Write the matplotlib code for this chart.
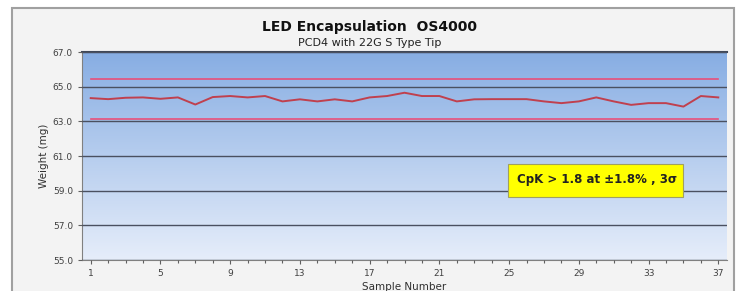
import numpy as np
import matplotlib
matplotlib.use('Agg')
import matplotlib.pyplot as plt
from matplotlib.patches import Rectangle

# --- data ---
samples = np.arange(1, 38)
weight = [64.34, 64.28, 64.36, 64.38, 64.30, 64.38, 63.97, 64.40, 64.46, 64.38,
          64.46, 64.15, 64.27, 64.15, 64.27, 64.15, 64.38, 64.46, 64.65, 64.46,
          64.46, 64.15, 64.27, 64.28, 64.28, 64.28, 64.15, 64.05, 64.15, 64.38,
          64.15, 63.95, 64.05, 64.05, 63.85, 64.46, 64.38]
usl = 65.46
lsl = 63.14
note = 'CpK > 1.8 at \u00b11.8% , 3\u03c3'

fig = plt.figure(figsize=(7.4, 2.91), dpi=100, facecolor='white')
fig.patches.append(Rectangle((12/740, -0.01), 722/740, 1 - 8/291 + 0.01,
                             transform=fig.transFigure, facecolor='#f3f3f3',
                             edgecolor='#a0a0a0', lw=1.5, zorder=-10))
ax = fig.add_axes([82/740, 1 - 260/291, 645/740, 208/291])

# gradient background
grad = np.linspace(0, 1, 256).reshape(-1, 1)
top = np.array([0.53, 0.68, 0.89])
bot = np.array([0.90, 0.93, 0.98])
img = top + (bot - top) * grad[..., None]
ax.imshow(img, extent=[0, 1, 0, 1], transform=ax.transAxes, aspect='auto', zorder=0)

ax.set_xlim(0.5, 37.5)
ax.set_ylim(55.0, 67.0)
yt = np.arange(55, 67.1, 2)
ax.set_yticks(yt)
ax.set_yticklabels([f'{v:.1f}' for v in yt])
ax.set_xticks(np.arange(1, 38, 4))
ax.set_xticks(samples, minor=True)
ax.grid(axis='y', color='#4a5060', lw=1.0, zorder=1)
ax.set_axisbelow(False)

ax.plot(samples, [usl] * len(samples), color='#e8507a', lw=1.2, zorder=2)
ax.plot(samples, [lsl] * len(samples), color='#e8507a', lw=1.2, zorder=2)
ax.plot(samples, weight, color='#c0404e', lw=1.4, zorder=3)

ax.tick_params(axis='both', labelsize=6.5, labelcolor='#404040', color='#606060',
               length=3, width=0.8)
ax.tick_params(axis='x', which='minor', length=2.5, width=0.8, color='#606060')
ax.spines['top'].set_color('#404858')
ax.spines['top'].set_linewidth(1.5)
for s in ['left', 'bottom']:
    ax.spines[s].set_color('#808080')
ax.spines['right'].set_visible(False)

ax.set_ylabel('Weight (mg)', fontsize=7.5, color='#303030', labelpad=3)
ax.set_xlabel('Sample Number', fontsize=7.5, color='#303030', labelpad=3)

fig.text(0.5, 1 - 27/291, 'LED Encapsulation  OS4000', ha='center', va='center',
         fontsize=10, fontweight='bold', color='#111111')
fig.text(0.5, 1 - 43/291, 'PCD4 with 22G S Type Tip', ha='center', va='center',
         fontsize=8, color='#222222')

fig.patches.append(Rectangle((508/740, 1 - 197/291), 175/740, 33/291,
                             transform=fig.transFigure, facecolor='#ffff00',
                             edgecolor='#a0a060', lw=0.8, zorder=5))
fig.text(517/740, 1 - 180/291, note, ha='left', va='center', fontsize=8.5,
         fontweight='bold', color='#222222', zorder=6)

fig.savefig('out.png', dpi=100)
